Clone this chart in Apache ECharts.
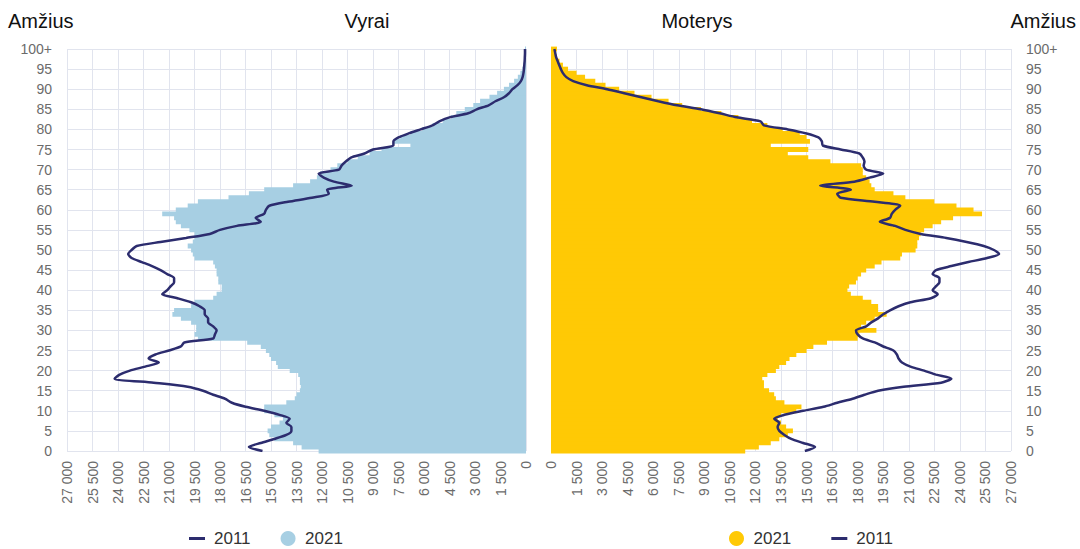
<!DOCTYPE html>
<html><head><meta charset="utf-8">
<script src="https://cdn.jsdelivr.net/npm/echarts@6/dist/echarts.min.js"></script>
<style>html,body{margin:0;padding:0;background:#fff}#c{width:1080px;height:549px}</style>
</head><body><div id="c"></div>
<script>
const ages = Array.from({length: 101}, (_, i) => i === 100 ? '100+' : String(i));

const male2021 = [12200,13200,13700,14800,15100,15200,15000,14500,14300,14800,
15400,15400,14100,13600,13500,13300,13250,13300,13300,13400,
13900,14600,14700,15000,15100,15300,15600,16400,19300,19500,
19400,19400,19700,20300,20800,20700,19700,19500,18400,18200,
17900,17900,18100,18100,18200,18200,18300,18400,19500,19600,
19700,19900,19600,19500,19500,19800,20300,20600,20700,21400,
20600,19900,19300,17500,16300,15400,13700,12700,12300,12100,
11500,11100,10500,9900,9200,8500,6800,7800,7400,6800,
6100,5500,4900,4400,4100,3600,3100,2700,2150,1700,
1300,1000,700,480,330,220,150,100,70,50,60];

const male2011 = [15500,16300,15600,14800,14100,13800,13800,14100,13900,14500,
15400,16500,17300,17700,18400,19000,19900,21900,24200,23900,
23300,22400,21600,22200,21800,21000,20300,20100,18400,18300,
18200,18400,18700,18700,18900,18900,19200,19700,20500,21400,
21100,20900,20700,20700,21100,21500,22000,22600,23200,23400,
23200,22900,21500,20000,18600,18000,17000,15600,15900,15400,
15300,15100,14000,12600,11600,11700,10250,11300,11900,12200,
11000,10850,10600,10300,9500,9000,7800,7800,7500,6900,
6200,5500,5100,4500,3400,2900,2200,1800,1300,1000,
800,500,300,200,150,120,100,80,70,60,60];

const female2021 = [11400,12200,12900,13400,13900,14200,13800,13500,13300,13500,
14400,14700,13700,13200,13100,12800,12500,12500,12400,12700,
13200,13400,13800,14000,14400,15000,15400,16200,18000,18100,
19100,18200,18500,19000,19700,19200,19200,18800,18300,17600,
17400,17500,17900,18000,18200,18500,19000,19400,20500,20600,
21400,21500,21500,21600,21700,21900,22400,22900,23600,25300,
24800,23800,22500,20800,20100,19000,18800,18700,18500,18300,
18300,18200,16400,15100,13900,15100,12900,15200,15000,14600,
13600,12700,11800,11000,10000,8800,7700,6900,5900,4900,
4000,3200,2600,2000,1500,1000,700,500,350,250,350];

const female2011 = [14900,15500,14800,14100,13700,13400,13300,13400,13100,13700,
14800,16000,16800,17700,18400,19200,20700,22900,23500,22600,
21900,21100,20600,20400,20300,20100,19500,19000,18300,18000,
17900,18500,18800,19200,19500,19900,20400,21100,22300,22700,
22400,22600,22800,22800,22400,22600,23500,24500,25600,26300,
26000,25400,24400,23200,21700,20800,20200,19300,19900,20000,
20200,20500,19000,17000,16800,17600,15800,17800,18700,19500,
18500,18350,18400,18300,18100,17000,15950,15900,15700,15000,
13900,12500,12300,10900,9900,8800,7400,6300,5300,4300,
3300,2100,1300,900,700,580,480,390,300,250,200];

const xMin = 0, xMax = 27000, xStep = 1500;
const titles = {ageLeft: 'Amžius', men: 'Vyrai', women: 'Moterys', ageRight: 'Amžius'};
const legendNames = {old: '2011', recent: '2021'};

const C_BLUE = '#A7CFE3', C_YELLOW = '#FFC905', C_NAVY = '#2C2C6E', C_GRID = '#E1E4EE', C_LABEL = '#6B6B6B';
const FONT = 'Liberation Sans, Arial, sans-serif';
const fmt = v => String(v).replace(/\B(?=(\d{3})+(?!\d))/g, ' ');
const lineIcon = 'path://M0,0 L16,0 L16,3 L0,3 Z';

function xAxisDef(idx, inverse) {
  return {
    type: 'value', gridIndex: idx, min: xMin, max: xMax, interval: xStep, inverse: inverse,
    axisLine: {show: false}, axisTick: {show: false},
    splitLine: {show: true, lineStyle: {color: C_GRID, width: 1}},
    axisLabel: {rotate: 90, margin: 10, color: C_LABEL, fontSize: 14, fontFamily: FONT, formatter: fmt}
  };
}
function yAxisDef(idx, pos) {
  return {
    type: 'category', gridIndex: idx, data: ages, boundaryGap: false, position: pos,
    axisLine: {show: false},
    axisTick: {show: true, interval: 4, length: 11, lineStyle: {color: C_GRID}},
    splitLine: {show: true, interval: 4, lineStyle: {color: C_GRID, width: 1}},
    axisLabel: {interval: 4, margin: 15, color: C_LABEL, fontSize: 14, fontFamily: FONT}
  };
}
function legendDef(left, gap, items) {
  return {left: left, top: 530, padding: 0, itemWidth: 16, itemHeight: 15, itemGap: gap, selectedMode: false,
    textStyle: {fontSize: 17, color: '#333', fontFamily: FONT, padding: [0, 0, 0, 4]}, data: items};
}
function titleText(x, text, align) {
  return {type: 'text', x: x, y: 21, style: {text: text, fill: '#111', font: '20px ' + FONT, textAlign: align, textVerticalAlign: 'middle'}};
}

const chart = echarts.init(document.getElementById('c'), null, {renderer: 'svg'});
chart.setOption({
  animation: false,
  backgroundColor: '#fff',
  grid: [
    {left: 67, right: 554, top: 49, bottom: 98},
    {left: 551, right: 69, top: 49, bottom: 98}
  ],
  xAxis: [xAxisDef(0, true), xAxisDef(1, false)],
  yAxis: [yAxisDef(0, 'left'), yAxisDef(1, 'right')],
  graphic: [
    titleText(8, titles.ageLeft, 'left'),
    titleText(367, titles.men, 'center'),
    titleText(697, titles.women, 'center'),
    titleText(1076, titles.ageRight, 'right')
  ],
  legend: [
    legendDef(189, 30, [{name: legendNames.old, icon: lineIcon, itemStyle: {color: C_NAVY}},
                        {name: legendNames.recent, icon: 'circle', itemStyle: {color: C_BLUE}}]),
    legendDef(729, 40, [{name: legendNames.recent, icon: 'circle', itemStyle: {color: C_YELLOW}},
                        {name: legendNames.old, icon: lineIcon, itemStyle: {color: C_NAVY}}])
  ],
  series: [
    {name: legendNames.recent, type: 'bar', xAxisIndex: 0, yAxisIndex: 0, data: male2021,
     barWidth: 4.8, itemStyle: {color: C_BLUE}, clip: false, z: 2},
    {name: legendNames.old, type: 'line', xAxisIndex: 0, yAxisIndex: 0, data: male2011,
     showSymbol: false, symbol: 'none', smooth: 0.25, lineStyle: {color: C_NAVY, width: 2.5}, itemStyle: {color: C_NAVY}, z: 5},
    {name: legendNames.recent, type: 'bar', xAxisIndex: 1, yAxisIndex: 1, data: female2021,
     barWidth: 4.8, itemStyle: {color: C_YELLOW}, clip: false, z: 2},
    {name: legendNames.old, type: 'line', xAxisIndex: 1, yAxisIndex: 1, data: female2011,
     showSymbol: false, symbol: 'none', smooth: 0.25, lineStyle: {color: C_NAVY, width: 2.5}, itemStyle: {color: C_NAVY}, z: 5}
  ]
});
</script></body></html>
